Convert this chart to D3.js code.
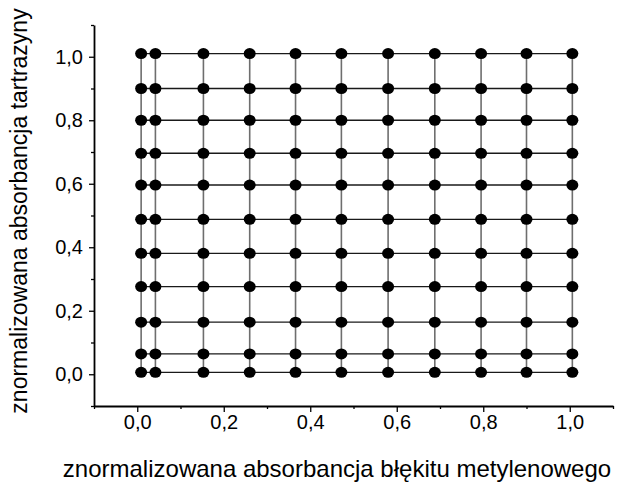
<!DOCTYPE html>
<html>
<head>
<meta charset="utf-8">
<script src="https://cdn.jsdelivr.net/npm/d3@7"></script>
<style>
  html, body { margin: 0; padding: 0; background: #fff; }
  svg { display: block; }
  text { font-family: "Liberation Sans", Arial, sans-serif; fill: #000; }
</style>
</head>
<body>
<svg id="chart" width="617" height="482"></svg>
<script>
// Calibration grid: normalized absorbance levels of each dye
const methyleneBlueLevels = [0.009, 0.042, 0.153, 0.260, 0.366, 0.472, 0.580, 0.688, 0.795, 0.900, 1.006];
const tartrazineLevels   = [0.006, 0.064, 0.164, 0.276, 0.381, 0.488, 0.596, 0.696, 0.800, 0.900, 1.010];

const xTickValues = [0.0, 0.2, 0.4, 0.6, 0.8, 1.0];
const yTickValues = [0.0, 0.2, 0.4, 0.6, 0.8, 1.0];
const minorTickValues = [-0.1, 0.1, 0.3, 0.5, 0.7, 0.9, 1.1];

const xTitle = "znormalizowana absorbancja błękitu metylenowego";
const yTitle = "znormalizowana absorbancja tartrazyny";

const fmt = d => d3.format(".1f")(d).replace(".", ",");

const svg = d3.select("#chart");

const x = d3.scaleLinear().domain([-0.1, 1.1]).range([94, 613]);
const y = d3.scaleLinear().domain([-0.1, 1.1]).range([406, 25]);

// every combination of the two dye levels
const points = [];
tartrazineLevels.forEach(ty => methyleneBlueLevels.forEach(mx => points.push({ x: mx, y: ty })));

const xMin = d3.min(methyleneBlueLevels), xMax = d3.max(methyleneBlueLevels);
const yMin = d3.min(tartrazineLevels), yMax = d3.max(tartrazineLevels);

// vertical grid connectors (constant methylene blue)
svg.append("g").selectAll("line")
  .data(methyleneBlueLevels).join("line")
  .attr("x1", d => x(d)).attr("x2", d => x(d))
  .attr("y1", y(yMin)).attr("y2", y(yMax))
  .attr("stroke", "#6e6e6e").attr("stroke-width", 1.6);

// horizontal grid connectors (constant tartrazine)
svg.append("g").selectAll("line")
  .data(tartrazineLevels).join("line")
  .attr("x1", x(xMin)).attr("x2", x(xMax))
  .attr("y1", d => y(d)).attr("y2", d => y(d))
  .attr("stroke", "#1a1a1a").attr("stroke-width", 1.3);

// measured mixtures
svg.append("g").selectAll("ellipse")
  .data(points).join("ellipse")
  .attr("cx", d => x(d.x)).attr("cy", d => y(d.y))
  .attr("rx", 6).attr("ry", 5.5)
  .attr("fill", "#000");

// axes
const xAxis = svg.append("g").attr("transform", `translate(0,${y(-0.1)})`);
xAxis.call(d3.axisBottom(x).tickValues(xTickValues).tickFormat(fmt).tickSize(6).tickSizeOuter(0));
xAxis.append("g").call(d3.axisBottom(x).tickValues(minorTickValues).tickFormat("").tickSize(3).tickSizeOuter(0))
  .select(".domain").remove();

const yAxis = svg.append("g").attr("transform", `translate(${x(-0.1)},0)`);
yAxis.call(d3.axisLeft(y).tickValues(yTickValues).tickFormat(fmt).tickSize(5).tickSizeOuter(0));
yAxis.append("g").call(d3.axisLeft(y).tickValues(minorTickValues).tickFormat("").tickSize(3).tickSizeOuter(0))
  .select(".domain").remove();

svg.selectAll(".domain").attr("stroke", "#000").attr("stroke-width", 1.8);
svg.selectAll(".tick line").attr("stroke", "#000").attr("stroke-width", 1.3);
xAxis.selectAll(".tick text").attr("font-size", 20)
  .style("font-family", "Liberation Sans, Arial, sans-serif");
yAxis.selectAll(".tick text").attr("font-size", 20).attr("x", -11)
  .style("font-family", "Liberation Sans, Arial, sans-serif");

// axis titles
svg.append("text")
  .attr("x", 337).attr("y", 477)
  .attr("text-anchor", "middle")
  .attr("font-size", 24)
  .text(xTitle);

svg.append("text")
  .attr("transform", "translate(27,211) rotate(-90)")
  .attr("text-anchor", "middle")
  .attr("font-size", 23)
  .text(yTitle);
</script>
</body>
</html>
